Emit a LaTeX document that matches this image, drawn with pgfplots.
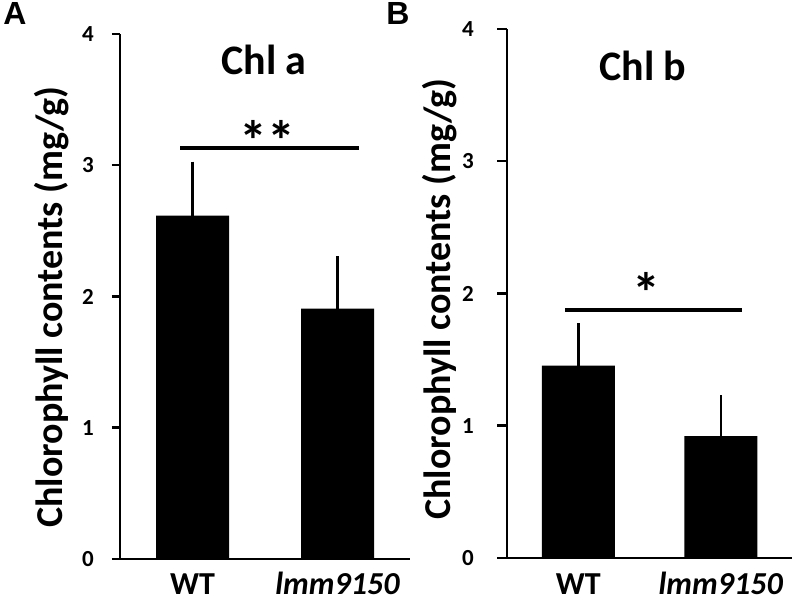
\documentclass[border=0pt]{standalone}
\usepackage{pgfplots}
\pgfplotsset{compat=1.18}
\usepackage{fontspec}
\setmainfont{Carlito}
\newfontfamily\arialf{Liberation Sans}

\pgfplotsset{chl/.style={
  scale only axis, anchor=south west,
  xmin=-0.5, xmax=1.5, ymin=0, ymax=4,
  axis x line*=bottom, axis y line*=left,
  axis line style={line width=2.5pt, black},
  ytick={0,1,2,3,4}, xtick={0,1},
  xticklabels={WT,\textit{lmm9150}},
  x tick style={draw=none},
  y tick style={line width=2.5pt, black},
  tick align=outside, major tick length=8pt,
  /pgf/number format/assume math mode=true,
  yticklabel style={font=\fontsize{23}{23}\selectfont\bfseries, anchor=center, inner sep=0pt},
  xticklabel style={font=\fontsize{32}{32}\selectfont\bfseries, anchor=base, inner sep=0pt},
  clip=false,
}}

\begin{document}
\begin{tikzpicture}
\path[use as bounding box, fill=white] (0,0) rectangle (797pt,602pt);

\begin{axis}[chl, at={(120pt,43pt)}, width=290pt, height=525pt,
  yticklabel style={xshift=-24pt}, xticklabel style={yshift=-27pt}]
\addplot[ybar, bar width=73pt, fill=black, draw=none,
  error bars/.cd, y dir=plus, y explicit,
  error bar style={line width=2.5pt, black},
  error mark options={line width=2.5pt, black, mark size=6.5pt}]
  coordinates {(0,2.616) +- (0,0.362) (1,1.907) +- (0,0.350)};
\addplot[black, line width=3.5pt, mark=none] coordinates {(-0.086,3.133) (1.148,3.133)};
\node[font=\fontsize{56}{56}\selectfont\bfseries, anchor=north, inner sep=0pt] at (axis cs:0.514,3.345) {**};
\node[font=\fontsize{42}{42}\selectfont\bfseries, anchor=base] at (axis cs:0.493,3.694) {Chl a};
\end{axis}

\begin{axis}[chl, at={(507pt,44pt)}, width=285pt, height=529pt, major tick length=10pt,
  yticklabel style={xshift=-29pt}, xticklabel style={yshift=-26pt}]
\addplot[ybar, bar width=73pt, fill=black, draw=none,
  error bars/.cd, y dir=plus, y explicit,
  error bar style={line width=2.5pt, black},
  error mark options={line width=2.5pt, black, mark size=6.5pt}]
  coordinates {(0,1.455) +- (0,0.270) (1,0.922) +- (0,0.261)};
\addplot[black, line width=3.5pt, mark=none] coordinates {(-0.093,1.875) (1.148,1.875)};
\node[font=\fontsize{56}{56}\selectfont\bfseries, anchor=north, inner sep=0pt] at (axis cs:0.48,2.163) {*};
\node[font=\fontsize{42}{42}\selectfont\bfseries, anchor=base] at (axis cs:0.454,3.614) {Chl b};
\end{axis}

\node[font=\fontsize{38}{38}\selectfont\bfseries, rotate=90, anchor=base] at (62pt,295pt) {Chlorophyll contents (mg/g)};
\node[font=\fontsize{38}{38}\selectfont\bfseries, rotate=90, anchor=base] at (450pt,303pt) {Chlorophyll contents (mg/g)};
\node[font=\fontsize{32}{32}\arialf\bfseries] at (15pt,588pt) {A};
\node[font=\fontsize{32}{32}\arialf\bfseries] at (398pt,588pt) {B};
\end{tikzpicture}
\end{document}
